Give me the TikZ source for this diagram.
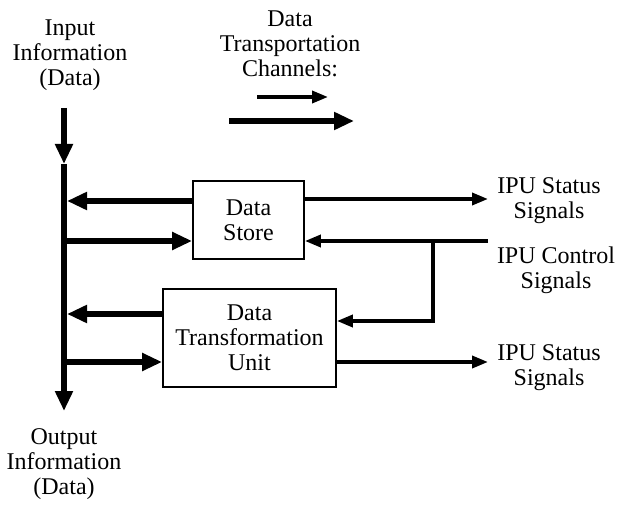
\documentclass[tikz,border=0pt]{standalone}
\usepackage{fontspec}
\setmainfont{Liberation Serif}
\usetikzlibrary{arrows.meta}
\begin{document}
\begin{tikzpicture}[x=1pt,y=-1pt,
  lbl/.style={align=center,font=\fontsize{24}{25}\selectfont,inner sep=0pt},
  box/.style={draw,line width=1.8pt,align=center,font=\fontsize{24}{25}\selectfont,inner sep=0pt},
  thickarr/.style={line width=6.5pt,-{Triangle[length=20pt,width=17pt]}},
  thinarr/.style={line width=3.6pt,-{Triangle[length=16pt,width=12pt]}},
  ctrl/.style={line width=3.6pt}]
\useasboundingbox (0,0) rectangle (618,505);
% labels
\node[lbl] (inlbl) at (70,55) {Input\\Information\\(Data)};
\node[lbl] (leglbl) at (290,44) {Data\\Transportation\\Channels:};
\node[lbl] (st1) at (549,201) {IPU Status\\Signals};
\node[lbl] (ctl) at (556,270) {IPU Control\\Signals};
\node[lbl] (st2) at (549,368) {IPU Status\\Signals};
\node[lbl] (outlbl) at (64,464) {Output\\Information\\(Data)};
% boxes
\node[box,minimum width=111pt,minimum height=78pt] (ds) at (248.5,220) {Data\\Store};
\node[box,minimum width=173pt,minimum height=98pt] (dtu) at (249.5,338) {Data\\Transformation\\Unit};
% legend arrows
\coordinate (lt1) at (257,97); \coordinate (lt2) at (328,97);
\coordinate (lk1) at (229,121); \coordinate (lk2) at (354,121);
\draw[thinarr] (lt1) -- (lt2);
\draw[thickarr] (lk1) -- (lk2);
% bus
\coordinate (bustop) at (64,108);
\coordinate (busmid) at (64,164);
\coordinate (busbot) at (64,411);
\draw[thickarr] (bustop) -- (busmid);
\draw[thickarr] (busmid) -- (busbot);
% bus <-> boxes
\draw[thickarr] (ds.west |- 0,201) -- (67,201);
\draw[thickarr] (61,241) -- (ds.west |- 0,241);
\draw[thickarr] (dtu.west |- 0,314) -- (67,314);
\draw[thickarr] (61,362) -- (dtu.west |- 0,362);
% right side
\coordinate (s1end) at (488,199);
\coordinate (cin) at (488,241);
\coordinate (cbr) at (433,241);
\coordinate (s2end) at (488,362);
\draw[thinarr] (ds.east |- 0,199) -- (s1end);
\draw[thinarr] (cin) -- (ds.east |- 0,241);
\draw[ctrl,line join=miter] (cbr) -- (433,321) -- ++(-20,0);
\draw[thinarr] (434.8,321) -- (dtu.east |- 0,321);
\draw[thinarr] (dtu.east |- 0,362) -- (s2end);
\end{tikzpicture}
\end{document}
